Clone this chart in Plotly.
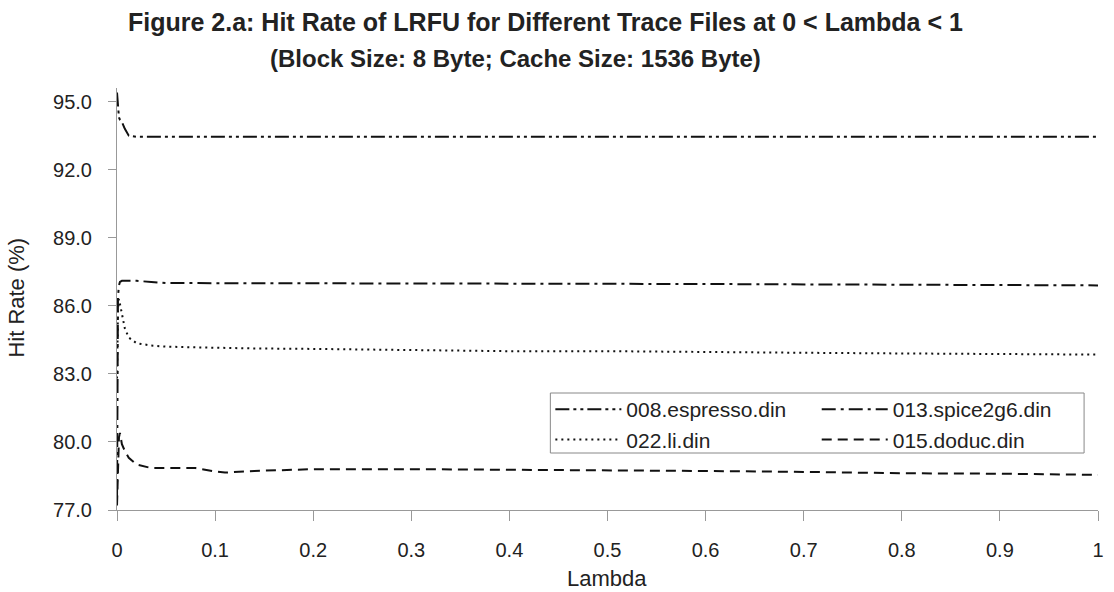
import plotly.graph_objects as go

# Lambda values (x)
lambdas = [0, 0.001, 0.002, 0.003, 0.005, 0.008, 0.012, 0.02, 0.035, 0.05, 0.08,
           0.1, 0.11, 0.14, 0.2, 0.3, 0.4, 0.5, 0.6, 0.7, 0.8, 0.9, 1.0]

# Hit rates (%)
espresso = [95.4, 94.6, 94.3, 94.2, 94.1, 93.8, 93.5, 93.45, 93.45, 93.45, 93.45,
            93.45, 93.45, 93.45, 93.45, 93.45, 93.45, 93.45, 93.45, 93.45, 93.45, 93.45, 93.45]
spice2g6 = [77.4, 86.4, 86.9, 87.05, 87.1, 87.1, 87.1, 87.1, 87.05, 87.0, 87.0,
            87.0, 87.0, 87.0, 87.0, 87.0, 86.98, 86.97, 86.96, 86.95, 86.93, 86.92, 86.9]
li = [82.8, 85.8, 86.3, 86.1, 85.6, 85.0, 84.6, 84.35, 84.25, 84.2, 84.17,
      84.15, 84.15, 84.12, 84.1, 84.05, 84.0, 84.0, 83.95, 83.93, 83.9, 83.88, 83.85]
doduc = [77.2, 79.5, 80.2, 80.4, 79.9, 79.6, 79.3, 79.0, 78.85, 78.85, 78.85,
         78.7, 78.65, 78.72, 78.8, 78.8, 78.78, 78.75, 78.72, 78.68, 78.62, 78.6, 78.55]

names = ["008.espresso.din", "013.spice2g6.din", "022.li.din", "015.doduc.din"]
series = [espresso, spice2g6, li, doduc]
dashes = ["14px,4px,3px,4px,3px,4px", "14px,5px,3px,5px", "2px,4px", "10px,6px"]
legend_ids = ["legend", "legend2", "legend", "legend2"]

y_ticks = [77, 80, 83, 86, 89, 92, 95]
x_ticks = [0, 0.1, 0.2, 0.3, 0.4, 0.5, 0.6, 0.7, 0.8, 0.9, 1.0]
x_labels = ["0", "0.1", "0.2", "0.3", "0.4", "0.5", "0.6", "0.7", "0.8", "0.9", "1"]

FONT = "Liberation Sans, Arial, sans-serif"
TXT = "#222222"

# pixel helpers for layout placement (plot area: x 117..1104, y 88..510)
def px_x(p):
    return (p - 117) / 987

def px_y(p):
    return (510 - p) / 422

fig = go.Figure()
for name, ys, dash, lg in zip(names, series, dashes, legend_ids):
    fig.add_trace(go.Scatter(
        x=lambdas, y=ys, name=name, mode="lines", legend=lg,
        line=dict(color="#111111", width=2, dash=dash),
    ))

leg_common = dict(orientation="v", yanchor="top", xanchor="left",
                  borderwidth=0, bgcolor="rgba(0,0,0,0)",
                  font=dict(size=21, family=FONT, color=TXT),
                  tracegroupgap=0, itemwidth=66)

fig.update_layout(
    width=1114, height=592,
    margin=dict(l=117, r=10, t=88, b=82),
    paper_bgcolor="white", plot_bgcolor="white",
    font=dict(family=FONT, size=20, color=TXT),
    showlegend=True,
    legend=dict(x=px_x(553), y=px_y(389), **leg_common),
    legend2=dict(x=px_x(821), y=px_y(389), **leg_common),
    shapes=[dict(type="rect", xref="paper", yref="paper",
                 x0=px_x(553), x1=px_x(1090), y0=px_y(453), y1=px_y(393),
                 line=dict(color="#888888", width=1), fillcolor="white",
                 layer="above")],
    annotations=[
        dict(text="<b>Figure 2.a: Hit Rate of LRFU for Different Trace Files at 0 &lt; Lambda &lt; 1</b>",
             xref="paper", yref="paper", x=px_x(548), y=px_y(22),
             xanchor="center", yanchor="middle", showarrow=False,
             font=dict(size=25, family=FONT, color=TXT)),
        dict(text="<b>(Block Size: 8 Byte; Cache Size: 1536 Byte)</b>",
             xref="paper", yref="paper", x=px_x(518), y=px_y(58),
             xanchor="center", yanchor="middle", showarrow=False,
             font=dict(size=24, family=FONT, color=TXT)),
        dict(text="Hit Rate (%)", textangle=-90,
             xref="paper", yref="paper", x=px_x(15), y=px_y(298),
             xanchor="center", yanchor="middle", showarrow=False,
             font=dict(size=22, family=FONT, color=TXT)),
        dict(text="Lambda",
             xref="paper", yref="paper", x=px_x(610), y=px_y(578),
             xanchor="center", yanchor="middle", showarrow=False,
             font=dict(size=22, family=FONT, color=TXT)),
    ],
)

fig.update_xaxes(
    range=[0, 1], tickvals=x_ticks, ticktext=x_labels,
    showline=True, linecolor="#999999", linewidth=1,
    ticks="outside", ticklen=10, tickcolor="#999999",
    showgrid=False, zeroline=False, ticklabelstandoff=12,
)
fig.update_yaxes(
    range=[77, 95.6], tickvals=y_ticks, tickformat=".1f",
    showline=True, linecolor="#999999", linewidth=1,
    ticks="outside", ticklen=8, tickcolor="#999999",
    showgrid=False, zeroline=False, ticklabelstandoff=12,
)

fig.write_html("out.html")
